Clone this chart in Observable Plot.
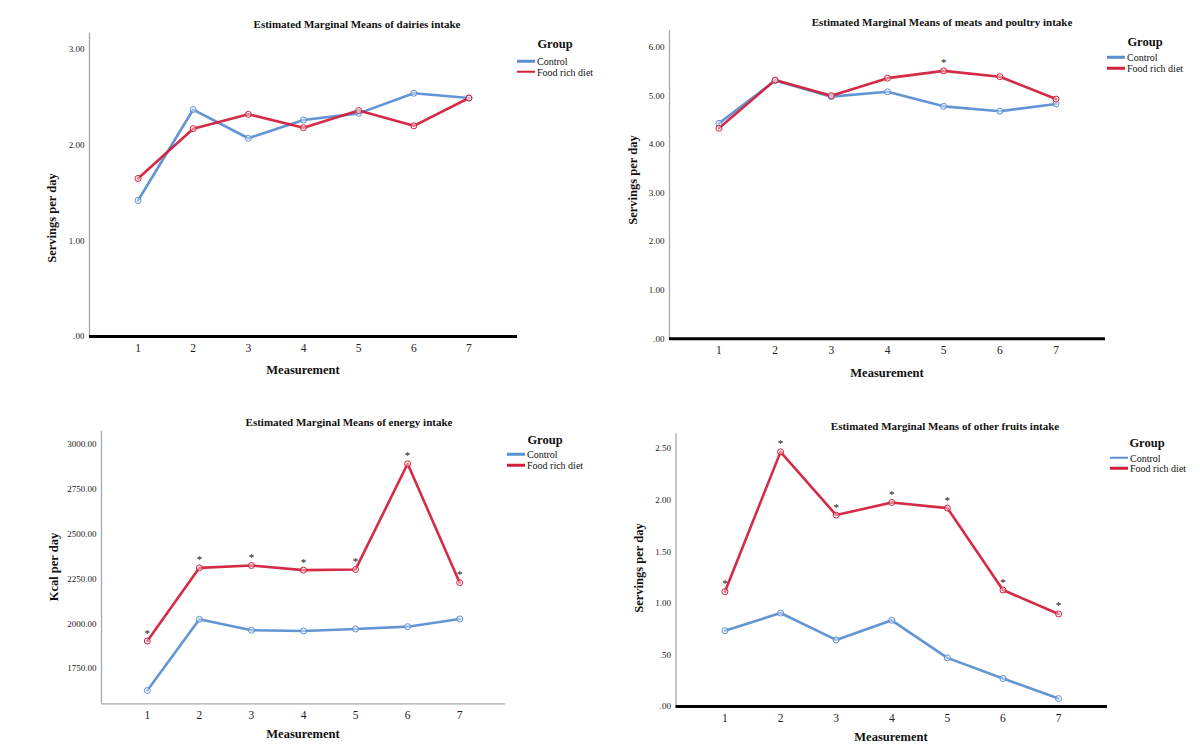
<!DOCTYPE html>
<html>
<head>
<meta charset="utf-8">
<script src="https://cdn.jsdelivr.net/npm/d3@7"></script>
<script src="https://cdn.jsdelivr.net/npm/@observablehq/plot@0.6"></script>
<style>
  html, body { margin: 0; padding: 0; background: #fff; }
  #root { position: relative; width: 1200px; height: 748px; overflow: hidden; font-family: "Liberation Serif", "Times New Roman", serif; color: #111; }
  .abs { position: absolute; white-space: nowrap; }
  .c { transform: translate(-50%, -50%); }
  .title { font-weight: bold; font-size: 11px; }
  .axlab { font-weight: bold; font-size: 12.5px; }
  .ylab { font-weight: bold; font-size: 12.5px; transform: translate(-50%, -50%) rotate(-90deg); }
  .lg-title { font-weight: bold; font-size: 12.5px; }
  .lg-text { font-size: 10px; transform: translateY(-50%); }
  .lg-line { position: absolute; height: 2.5px; transform: translateY(-50%); }
  .panel { position: absolute; }
</style>
</head>
<body>
<div id="root"></div>
<script>
// ---------------- data ----------------
const measurements = [1, 2, 3, 4, 5, 6, 7];
const groups = ["Control", "Food rich diet"];
const groupColors = ["#5b8fd2", "#d2203c"];

const dairiesControl = [1.42, 2.37, 2.07, 2.26, 2.33, 2.54, 2.49];
const dairiesFood    = [1.65, 2.17, 2.32, 2.18, 2.36, 2.20, 2.49];
const dairiesSig     = [];
const dairiesTicks   = [0, 1, 2, 3];

const meatsControl = [4.43, 5.31, 4.98, 5.08, 4.78, 4.68, 4.83];
const meatsFood    = [4.33, 5.32, 5.00, 5.36, 5.51, 5.39, 4.93];
const meatsSig     = [5];
const meatsTicks   = [0, 1, 2, 3, 4, 5, 6];

const energyControl = [1627, 2024, 1963, 1959, 1970, 1983, 2026];
const energyFood    = [1903, 2311, 2324, 2298, 2302, 2891, 2228];
const energySig     = [1, 2, 3, 4, 5, 6, 7];
const energyTicks   = [1750, 2000, 2250, 2500, 2750, 3000];

const fruitsControl = [0.735, 0.906, 0.645, 0.835, 0.471, 0.271, 0.077];
const fruitsFood    = [1.113, 2.468, 1.855, 1.977, 1.923, 1.129, 0.897];
const fruitsSig     = [1, 2, 3, 4, 5, 6, 7];
const fruitsTicks   = [0, 0.5, 1, 1.5, 2, 2.5];

// ---------------- layout ----------------
const panels = [
  { title: "Estimated Marginal Means of dairies intake", ylabel: "Servings per day",
    control: dairiesControl, food: dairiesFood, sig: dairiesSig, ticks: dairiesTicks,
    ydomain: [0, 3.167], origin: [0, 0], frame: { l: 89, t: 32.7, r: 517, b: 336 }, zeroBase: true,
    titlePos: [357, 24], xlabPos: [303, 370], ylabPos: [52, 218],
    legend: { gx: 555, gy: 44, lx: 517, lw: 18, y1: 61, y2: 71.7 } },
  { title: "Estimated Marginal Means of meats and poultry intake", ylabel: "Servings per day",
    control: meatsControl, food: meatsFood, sig: meatsSig, ticks: meatsTicks,
    ydomain: [0, 6.34], origin: [600, 0], frame: { l: 669, t: 30, r: 1105, b: 338.3 }, zeroBase: true,
    titlePos: [942, 22], xlabPos: [887, 373], ylabPos: [633, 180],
    legend: { gx: 1145, gy: 42, lx: 1107, lw: 18, y1: 57.3, y2: 68.3 } },
  { title: "Estimated Marginal Means of energy intake", ylabel: "Kcal per day",
    control: energyControl, food: energyFood, sig: energySig, ticks: energyTicks,
    ydomain: [1553, 3071], origin: [0, 374], frame: { l: 101, t: 431, r: 505, b: 703.3 }, zeroBase: false,
    titlePos: [349, 422], xlabPos: [303, 734], ylabPos: [54, 567],
    legend: { gx: 545, gy: 440, lx: 507, lw: 18, y1: 454, y2: 465 } },
  { title: "Estimated Marginal Means of other fruits intake", ylabel: "Servings per day",
    control: fruitsControl, food: fruitsFood, sig: fruitsSig, ticks: fruitsTicks,
    ydomain: [0, 2.643], origin: [600, 374], frame: { l: 675.5, t: 433.3, r: 1107, b: 706 }, zeroBase: true,
    titlePos: [945, 426], xlabPos: [891, 737], ylabPos: [639, 568],
    legend: { gx: 1147, gy: 443, lx: 1110, lw: 18, y1: 457.7, y2: 468 } }
];

const root = document.getElementById("root");
const W = 600, H = 374;
const fmt = d => d.toFixed(2).replace(/^0\./, ".");

function addText(cls, text, x, y, centered = true) {
  const el = document.createElement("div");
  el.className = "abs " + cls + (centered && cls !== "ylab" ? " c" : "");
  el.textContent = text;
  el.style.left = x + "px";
  el.style.top = y + "px";
  root.appendChild(el);
  return el;
}

for (const p of panels) {
  const rows = [];
  measurements.forEach((m, i) => {
    rows.push({ m, v: p.control[i], g: groups[0] });
    rows.push({ m, v: p.food[i], g: groups[1] });
  });
  const sigRows = p.sig.map(m => ({ m, v: p.food[measurements.indexOf(m)] }));
  const [ox, oy] = p.origin;
  const f = p.frame;

  const chart = Plot.plot({
    width: W,
    height: H,
    marginLeft: f.l - ox,
    marginRight: ox + W - f.r,
    marginTop: f.t - oy,
    marginBottom: oy + H - f.b,
    style: { fontFamily: "'Liberation Serif', 'Times New Roman', serif", background: "transparent", overflow: "visible" },
    x: { type: "linear", domain: [0.12, 7.88] },
    y: { domain: p.ydomain },
    color: { domain: groups, range: groupColors },
    marks: [
      Plot.ruleX([0.12], { stroke: "#a8a8a8", strokeWidth: 1.3 }),
      Plot.ruleY([p.ydomain[0]], p.zeroBase
        ? { stroke: "#000", strokeWidth: 3 }
        : { stroke: "#a8a8a8", strokeWidth: 1.3 }),
      Plot.axisY({ ticks: p.ticks, tickSize: 0, tickPadding: 5, tickFormat: fmt, fontSize: 9, fill: "#222", label: null }),
      Plot.axisX({ ticks: measurements, tickSize: 0, tickPadding: 7, tickFormat: d => String(d), fontSize: 11.5, fill: "#222", label: null }),
      Plot.line(rows, { x: "m", y: "v", z: "g", stroke: "g", strokeWidth: 2.6, strokeOpacity: 0.95 }),
      Plot.dot(rows, { x: "m", y: "v", stroke: "g", r: 3, fill: "white", fillOpacity: 0.4, strokeWidth: 1 }),
      Plot.text(sigRows, { x: "m", y: "v", text: () => "*", dy: -8, fontSize: 11, fill: "#111" })
    ]
  });
  chart.classList.add("panel");
  chart.style.left = ox + "px";
  chart.style.top = oy + "px";
  root.appendChild(chart);

  addText("title", p.title, p.titlePos[0], p.titlePos[1]);
  addText("axlab", "Measurement", p.xlabPos[0], p.xlabPos[1]);
  addText("ylab", p.ylabel, p.ylabPos[0], p.ylabPos[1]);

  const L = p.legend;
  addText("lg-title", "Group", L.gx, L.gy);
  [L.y1, L.y2].forEach((yy, i) => {
    const line = document.createElement("div");
    line.className = "lg-line";
    line.style.left = L.lx + "px";
    line.style.top = yy + "px";
    line.style.width = L.lw + "px";
    line.style.background = groupColors[i];
    root.appendChild(line);
    addText("lg-text", groups[i], L.lx + L.lw + 2, yy, false);
  });
}
</script>
</body>
</html>
